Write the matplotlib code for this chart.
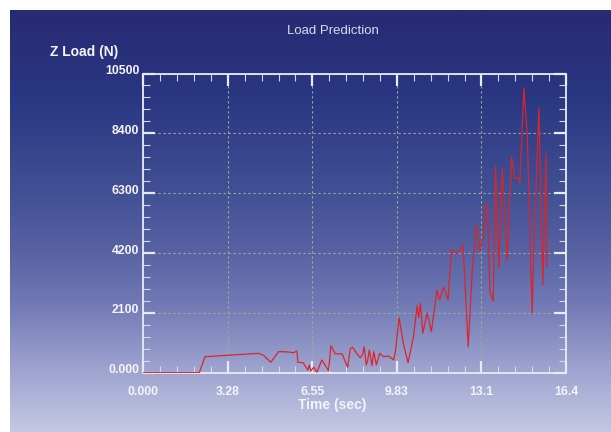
import numpy as np
import matplotlib
matplotlib.use("Agg")
import matplotlib.pyplot as plt
import matplotlib.transforms as mtransforms
from matplotlib.ticker import AutoMinorLocator

# --- data ---
time_s = [0.00, 2.17, 2.39, 4.46, 4.66, 4.94, 5.24, 5.50, 5.82, 5.95,
          5.99, 6.19, 6.38, 6.43, 6.50, 6.60, 6.73, 6.92, 7.18, 7.27,
          7.44, 7.70, 7.92, 8.02, 8.11, 8.28, 8.41, 8.50, 8.56, 8.64,
          8.69, 8.76, 8.86, 8.93, 9.03, 9.16, 9.31, 9.51, 9.70, 9.77,
          9.91, 10.09, 10.26, 10.35, 10.48, 10.61, 10.67, 10.74, 10.83, 11.00,
          11.16, 11.38, 11.48, 11.64, 11.81, 11.94, 12.16, 12.39, 12.59, 12.74,
          12.91, 13.04, 13.19, 13.26, 13.35, 13.43, 13.56, 13.65, 13.78, 13.91,
          14.10, 14.27, 14.40, 14.55, 14.59, 14.75, 14.88, 15.07, 15.11, 15.33,
          15.48, 15.61, 15.63]
z_load = [0, 0, 560, 680, 610, 365, 737, 737, 702, 760,
          365, 351, 95, 270, 60, 190, 20, 446, 70, 948,
          657, 667, 190, 843, 892, 657, 527, 646, 913, 270,
          411, 797, 246, 737, 270, 681, 562, 586, 446, 737,
          1931, 973, 350, 737, 1324, 2360, 1930, 2450, 1383, 2100,
          1440, 2904, 2550, 3020, 2553, 4320, 4170, 4484, 913, 3490,
          5186, 4249, 4850, 5930, 5740, 2844, 2500, 7233, 3666, 7177,
          3930, 7584, 6826, 6826, 6671, 9986, 8346, 2086, 3606, 9284,
          3079, 7701, 3722]

x_max = 16.38
y_max = 10500
x_ticks = [0, 3.276, 6.552, 9.828, 13.104, 16.38]
x_labels = ["0.000", "3.28", "6.55", "9.83", "13.1", "16.4"]
y_ticks = [0, 2100, 4200, 6300, 8400, 10500]
y_labels = ["0.000", "2100", "4200", "6300", "8400", "10500"]

plt.rcParams['font.family'] = ['Liberation Sans', 'DejaVu Sans']

fig = plt.figure(figsize=(6.11, 4.32), dpi=100)
fig.patch.set_facecolor("white")

# --- gradient background panel ---
bg = fig.add_axes([10 / 611, 0, 601 / 611, 422 / 432], zorder=0)
stops = [0.0, 0.21, 0.45, 0.57, 0.69, 0.86, 1.0]
cols = np.array([(40, 42, 115), (42, 55, 130), (68, 82, 150), (88, 98, 163),
                 (112, 120, 180), (160, 165, 208), (196, 200, 228)]) / 255
yy = np.linspace(0, 1, 300)
grad = np.stack([np.interp(yy, stops, cols[:, c]) for c in range(3)], axis=1)
bg.imshow(grad[:, None, :], aspect="auto", extent=[0, 1, 1, 0])
bg.set_xlim(0, 1)
bg.set_ylim(1, 0)
bg.axis("off")

# --- main plot ---
ax = fig.add_axes([143.3 / 611, 1 - 372.7 / 432, 422.7 / 611, 299.2 / 432], zorder=1)
ax.patch.set_alpha(0)
ax.plot(time_s, z_load, color="#d9262b", linewidth=0.9, zorder=3)

ax.set_xlim(0, x_max)
ax.set_ylim(0, y_max)
ax.set_xticks(x_ticks)
ax.set_xticklabels(x_labels)
ax.set_yticks(y_ticks)
ax.set_yticklabels(y_labels)
ax.xaxis.set_minor_locator(AutoMinorLocator(5))
ax.yaxis.set_minor_locator(AutoMinorLocator(5))

frame = "#e8eaf4"
for s in ax.spines.values():
    s.set_color(frame)
    s.set_linewidth(1.3)

ax.tick_params(which="major", direction="in", length=8.5, width=1.6, color=frame,
               top=True, right=True, labelcolor="#f4f4fa", labelsize=8.8)
ax.tick_params(which="minor", direction="in", length=4.8, width=0.8, color="#d4d8ea",
               top=True, right=True)
ax.tick_params(axis="x", which="major", pad=9.5)
ax.tick_params(axis="y", which="major", pad=3)
for lab in ax.get_xticklabels() + ax.get_yticklabels():
    lab.set_fontweight("bold")

# y labels sit a bit above their ticks
up = mtransforms.ScaledTranslation(0, 0.04, fig.dpi_scale_trans)
for lab in ax.get_yticklabels():
    lab.set_transform(lab.get_transform() + up)

ax.grid(True, which="major", color="#9eae98", linestyle=(0, (2, 2.5)), linewidth=0.8)

# --- texts ---
fig.text(333 / 611, 1 - 31.5 / 432, "Load Prediction", ha="center", va="center",
         color="#d8dcee", fontsize=9.5)
fig.text(84 / 611, 1 - 52 / 432, "Z Load (N)", ha="center", va="center",
         color="#f4f4fa", fontsize=10, fontweight="bold")
fig.text(332 / 611, 1 - 405.5 / 432, "Time (sec)", ha="center", va="center",
         color="#f4f4fa", fontsize=10, fontweight="bold")

fig.savefig("out.png", dpi=100)
